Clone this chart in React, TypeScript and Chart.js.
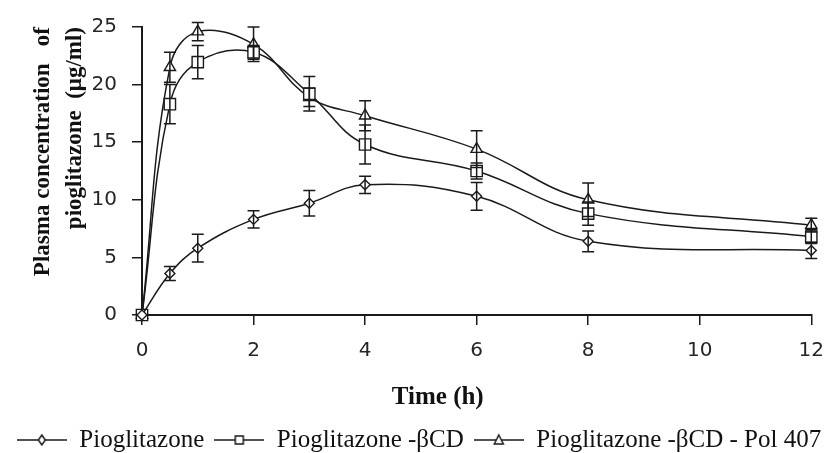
import React, { useEffect, useRef } from 'react';
import { Chart, registerables } from 'chart.js';

Chart.register(...registerables);

// ---- data ----
const timeHours = [0, 0.5, 1, 2, 3, 4, 6, 8, 12];

const pioglitazone = [0, 3.6, 5.8, 8.3, 9.7, 11.3, 10.3, 6.4, 5.6];
const pioglitazoneErr = [0, 0.6, 1.2, 0.75, 1.1, 0.75, 1.2, 0.9, 0.7];

const pioglitazoneBCD = [0, 18.3, 21.95, 22.8, 19.2, 14.8, 12.5, 8.8, 6.8];
const pioglitazoneBCDErr = [0, 1.7, 1.45, 0.6, 1.5, 1.7, 0.7, 1.0, 0.6];

const pioglitazoneBCDPol = [0, 21.5, 24.6, 23.5, 18.9, 17.3, 14.4, 10.0, 7.8];
const pioglitazoneBCDPolErr = [0, 1.3, 0.8, 1.5, 0.8, 1.3, 1.6, 1.45, 0.6];

const seriesLabels = ['Pioglitazone', 'Pioglitazone -βCD', 'Pioglitazone -βCD - Pol 407'];
const xTitle = '      Time (h)';
const yTitle = ['Plasma concentration   of', 'pioglitazone  (μg/ml)'];
const xRange = [0, 12];
const xStep = 2;
const yRange = [0, 25];
const yStep = 5;

const INK = '#1a1a1a';

function makeLegendIcon(kind: string): HTMLCanvasElement {
  const c = document.createElement('canvas');
  c.width = 50;
  c.height = 16;
  const g = c.getContext('2d')!;
  g.strokeStyle = INK;
  g.lineWidth = 1.5;
  g.beginPath();
  g.moveTo(0, 8);
  g.lineTo(50, 8);
  g.stroke();
  g.fillStyle = '#fff';
  g.beginPath();
  if (kind === 'diamond') {
    g.moveTo(25, 3);
    g.lineTo(28.5, 8);
    g.lineTo(25, 13);
    g.lineTo(21.5, 8);
    g.closePath();
  } else if (kind === 'square') {
    g.rect(21, 4, 8, 8);
  } else {
    g.moveTo(25, 3);
    g.lineTo(29.5, 12);
    g.lineTo(20.5, 12);
    g.closePath();
  }
  g.fill();
  g.stroke();
  return c;
}

const errorBarPlugin = {
  id: 'errorBars',
  afterDatasetsDraw(chart: any) {
    const { ctx } = chart;
    const yScale = chart.scales.y;
    chart.data.datasets.forEach((ds: any, di: number) => {
      const errs: number[] = ds.errors;
      if (!errs) return;
      const meta = chart.getDatasetMeta(di);
      ctx.save();
      ctx.strokeStyle = INK;
      ctx.lineWidth = 1.5;
      meta.data.forEach((pt: any, i: number) => {
        const e = errs[i];
        if (!e) return;
        const v = ds.data[i].y;
        const top = yScale.getPixelForValue(v + e);
        const bot = yScale.getPixelForValue(v - e);
        ctx.beginPath();
        ctx.moveTo(pt.x, top);
        ctx.lineTo(pt.x, bot);
        ctx.moveTo(pt.x - 6, top);
        ctx.lineTo(pt.x + 6, top);
        ctx.moveTo(pt.x - 6, bot);
        ctx.lineTo(pt.x + 6, bot);
        ctx.stroke();
      });
      ctx.restore();
    });
  },
};

export default function App() {
  const canvasRef = useRef<HTMLCanvasElement>(null);

  useEffect(() => {
    document.body.style.margin = '0';
    const canvas = canvasRef.current;
    if (!canvas) return;

    const icons = [makeLegendIcon('diamond'), makeLegendIcon('square'), makeLegendIcon('triangle')];
    const seriesValues = [pioglitazone, pioglitazoneBCD, pioglitazoneBCDPol];
    const seriesErrors = [pioglitazoneErr, pioglitazoneBCDErr, pioglitazoneBCDPolErr];
    const pointStyles = ['rectRot', 'rect', 'triangle'];
    const pointRadii = [5, 8, 6.5];

    const chart = new Chart(canvas, {
      type: 'line',
      data: {
        datasets: seriesValues.map((vals, i) => ({
          label: seriesLabels[i],
          data: timeHours.map((t, j) => ({ x: t, y: vals[j] })),
          errors: seriesErrors[i],
          borderColor: INK,
          borderWidth: 1.5,
          backgroundColor: '#fff',
          pointStyle: pointStyles[i],
          pointRadius: pointRadii[i],
          pointBorderColor: INK,
          pointBackgroundColor: '#fff',
          pointBorderWidth: 1.4,
          tension: 0.4,
          fill: false,
          clip: false,
          yAxisID: 'y',
        })) as any,
      },
      options: {
        responsive: false,
        animation: false,
        layout: { padding: { top: 26, right: 0, left: 0, bottom: 0 } },
        scales: {
          x: {
            type: 'linear',
            min: xRange[0],
            max: xRange[1],
            ticks: {
              stepSize: xStep,
              padding: 14,
              color: '#262626',
              font: { family: 'DejaVu Sans', size: 20 },
            },
            grid: { drawOnChartArea: false, drawTicks: true, tickLength: 10, color: INK, lineWidth: 1.5 },
            border: { display: true, color: INK, width: 2 },
            afterFit: (scale: any) => {
              scale.height = 52;
            },
          },
          y: {
            type: 'linear',
            position: 'left',
            min: yRange[0],
            max: yRange[1],
            ticks: {
              stepSize: yStep,
              padding: 15,
              color: '#262626',
              font: { family: 'DejaVu Sans', size: 20 },
            },
            grid: { drawOnChartArea: false, drawTicks: true, tickLength: 10, color: INK, lineWidth: 1.5 },
            border: { display: true, color: INK, width: 2 },
            title: {
              display: true,
              align: 'end',
              text: yTitle,
              color: '#111',
              font: { family: 'Liberation Serif', size: 23, weight: 'bold', lineHeight: 32 / 23 },
              padding: { top: 27, bottom: 0 },
            },
            afterFit: (scale: any) => {
              scale.width = 142;
            },
          },
          yRight: {
            type: 'linear',
            position: 'right',
            display: true,
            min: 0,
            max: 1,
            ticks: { display: false },
            grid: { display: false, drawTicks: false },
            border: { display: false },
            afterFit: (scale: any) => {
              scale.width = 26;
            },
          },
        },
        plugins: {
          title: {
            display: true,
            position: 'bottom',
            text: xTitle,
            color: '#111',
            font: { family: 'Liberation Serif', size: 25, weight: 'bold', lineHeight: 1.2 },
            padding: { top: 16, bottom: 4.5 },
          },
          legend: {
            display: true,
            position: 'bottom',
            weight: 3000,
            maxHeight: 35.5,
            labels: {
              usePointStyle: true,
              pointStyleWidth: 50,
              padding: 10,
              color: '#111',
              font: { family: 'Liberation Serif', size: 25 },
              generateLabels: (ch: any) =>
                ch.data.datasets.map((ds: any, i: number) => ({
                  text: ds.label,
                  pointStyle: icons[i],
                  fillStyle: 'transparent',
                  strokeStyle: 'transparent',
                  lineWidth: 0,
                  hidden: false,
                  datasetIndex: i,
                  fontColor: '#111',
                })),
            },
          } as any,
          tooltip: { enabled: false },
        },
      } as any,
      plugins: [errorBarPlugin],
    });

    return () => {
      chart.destroy();
    };
  }, []);

  return (
    <div style={{ width: 838, height: 453, background: '#fff' }}>
      <canvas ref={canvasRef} width={838} height={453} style={{ display: 'block' }} />
    </div>
  );
}
